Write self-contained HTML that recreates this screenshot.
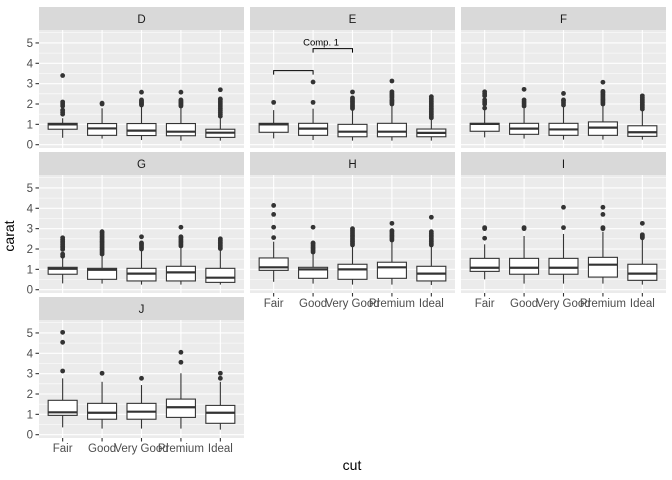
<!DOCTYPE html>
<html><head><meta charset="utf-8"><style>
html,body{margin:0;padding:0;background:#fff;}
svg{display:block;font-family:"Liberation Sans",Arial,sans-serif;}
</style></head><body>
<svg id="chart" width="672" height="480" viewBox="0 0 672 480"></svg>
<script>
const colors = ["D","E","F","G","H","I","J"];
const cuts = ["Fair","Good","Very Good","Premium","Ideal"];
const q1 = [[0.76,0.46,0.45,0.44,0.36],[0.61,0.46,0.39,0.39,0.39],[0.66,0.51,0.46,0.46,0.41],[0.76,0.51,0.43,0.43,0.36],[0.95,0.56,0.51,0.56,0.43],[0.90,0.76,0.76,0.62,0.46],[0.95,0.76,0.76,0.85,0.56]];
const med = [[1.00,0.80,0.69,0.64,0.59],[1.00,0.79,0.64,0.64,0.58],[1.02,0.79,0.75,0.84,0.61],[1.03,0.98,0.79,0.85,0.59],[1.10,1.00,1.00,1.10,0.79],[1.08,1.08,1.08,1.23,0.79],[1.10,1.08,1.13,1.35,1.08]];
const q3 = [[1.05,1.04,1.04,1.04,0.76],[1.05,1.05,1.00,1.05,0.77],[1.05,1.05,1.05,1.12,0.93],[1.10,1.05,1.05,1.15,1.05],[1.56,1.10,1.25,1.35,1.15],[1.54,1.54,1.54,1.59,1.25],[1.69,1.54,1.54,1.75,1.44]];
const whiskLo = [[0.34,0.30,0.23,0.20,0.20],[0.31,0.23,0.20,0.20,0.20],[0.36,0.30,0.25,0.25,0.25],[0.31,0.30,0.25,0.25,0.25],[0.39,0.30,0.25,0.25,0.23],[0.51,0.30,0.30,0.30,0.25],[0.36,0.30,0.30,0.30,0.25]];
const whiskHi = [[1.30,1.79,1.90,1.84,1.35],[1.70,1.77,1.73,1.95,1.28],[1.70,1.79,1.87,1.95,1.70],[1.54,1.70,1.95,2.11,1.98],[2.36,1.79,2.10,2.40,2.20],[2.23,2.64,2.74,2.85,2.45],[2.77,2.60,2.44,3.02,2.60]];
const outliers = [
 [[1.5,1.6,1.7,1.9,2.0,2.1,3.4],[2.0,2.04],[1.95,2.0,2.05,2.1,2.15,2.2,2.58],[1.9,1.95,2.0,2.05,2.1,2.15,2.2,2.58],[1.4,1.5,1.6,1.7,1.8,1.9,2.0,2.1,2.2,2.25,2.7]],
 [[2.08],[2.08,3.08],[1.78,1.85,1.92,2.0,2.08,2.15,2.23,2.3,2.59],[2.0,2.08,2.15,2.2,2.3,2.38,2.45,2.52,2.6,3.13],[1.32,1.4,1.48,1.56,1.64,1.72,1.8,1.88,1.96,2.04,2.12,2.2,2.28,2.36]],
 [[1.8,2.0,2.1,2.2,2.4,2.5,2.6],[1.9,2.0,2.1,2.2,2.72],[1.95,2.05,2.15,2.2,2.52],[2.0,2.08,2.16,2.24,2.32,2.4,2.48,2.56,2.62,3.07],[1.75,1.83,1.91,1.99,2.07,2.15,2.23,2.31,2.4]],
 [[1.65,1.75,1.98,2.06,2.14,2.22,2.3,2.38,2.46,2.55],[1.75,1.83,1.91,1.99,2.07,2.15,2.23,2.31,2.39,2.47,2.55,2.63,2.71,2.79,2.85],[2.0,2.08,2.16,2.24,2.3,2.6],[2.15,2.23,2.31,2.39,2.47,2.55,2.6,3.07],[2.02,2.1,2.18,2.26,2.34,2.42,2.5]],
 [[2.56,3.07,3.7,4.14],[1.85,1.93,2.01,2.09,2.17,2.25,2.3,3.07],[2.2,2.28,2.36,2.44,2.52,2.6,2.68,2.76,2.84,2.92,3.0],[2.44,2.52,2.6,2.68,2.76,2.84,2.9,3.26],[2.2,2.28,2.36,2.44,2.52,2.6,2.68,2.76,2.85,3.56]],
 [[2.53,3.0,3.05],[3.0,3.05],[3.05,4.05],[3.0,3.05,3.7,4.05],[2.55,2.6,2.65,2.7,3.26]],
 [[3.13,4.54,5.03],[3.02],[2.77],[3.56,4.05],[2.77,3.02]]
];
const yTicks = [0,1,2,3,4,5];
const compBrackets = [[0,1,3.64],[1,2,4.72]];

const svg = document.getElementById('chart');
const NS = "http://www.w3.org/2000/svg";
function mk(tag, attrs, parent){const e=document.createElementNS(NS,tag);for(const k in attrs)e.setAttribute(k,attrs[k]);(parent||svg).appendChild(e);return e;}

const colX = [39,250,461], panelW = 205;
const stripTop = [7,152,297], stripH = 23, plotH = 118;
const unitPx = 20.35, zeroOff = 114.7;
function yScale(row,v){return stripTop[row]+stripH+zeroOff - v*unitPx;}
function xScale(col,k){return colX[col] + (k+0.6)*panelW/5.2;}

colors.forEach((c,pi)=>{
  const row=Math.floor(pi/3), col=pi%3;
  const g=mk('g',{});
  
  
  const px=colX[col], st=stripTop[row], pt=st+stripH;
  const strip=mk('rect',{x:px,y:st,width:panelW,height:stripH,fill:'#D9D9D9'},g);
  
  
  const st1=mk('text',{x:px+panelW/2,y:st+16,'text-anchor':'middle','font-size':'11.5',fill:'#1A1A1A'},g);
  st1.textContent=c;
  
  
  const bg=mk('rect',{x:px,y:pt,width:panelW,height:plotH,fill:'#EBEBEB'},g);
  
  
  for(let v=0.5; v<6; v+=1){const y=yScale(row,v); if(y>pt) mk('line',{x1:px,x2:px+panelW,y1:y,y2:y,stroke:'#fff','stroke-width':0.55},g);}
  yTicks.forEach(v=>{const y=yScale(row,v); mk('line',{x1:px,x2:px+panelW,y1:y,y2:y,stroke:'#fff','stroke-width':1.1},g);});
  cuts.forEach((cu,k)=>{const x=xScale(col,k); mk('line',{x1:x,x2:x,y1:pt,y2:pt+plotH,stroke:'#fff','stroke-width':1.1},g);});
  // y axis
  if(col===0){
    yTicks.forEach(v=>{const y=yScale(row,v);
      mk('line',{x1:px-3.5,x2:px,y1:y,y2:y,stroke:'#333','stroke-width':1.1},g);
      const t=mk('text',{x:px-6,y:y+4,'text-anchor':'end','font-size':'11.5',fill:'#4D4D4D'},g);t.textContent=v;
      
      
    });
  }
  // x axis
  const showX = row===2 || (row===1 && col>0);
  if(showX){
    cuts.forEach((cu,k)=>{const x=xScale(col,k);
      mk('line',{x1:x,x2:x,y1:pt+plotH,y2:pt+plotH+3.5,stroke:'#333','stroke-width':1.1},g);
      const t=mk('text',{x:x,y:pt+plotH+14,'text-anchor':'middle','font-size':'11.5',fill:'#4D4D4D'},g);t.textContent=cu;
      
      
    });
  }
  // boxes
  cuts.forEach((cu,k)=>{
    const x=xScale(col,k), hw=14.5;
    const bx=mk('g',{},g);
    
    
    mk('line',{x1:x,x2:x,y1:yScale(row,whiskLo[pi][k]),y2:yScale(row,q1[pi][k]),stroke:'#333','stroke-width':1.1},bx);
    mk('line',{x1:x,x2:x,y1:yScale(row,q3[pi][k]),y2:yScale(row,whiskHi[pi][k]),stroke:'#333','stroke-width':1.1},bx);
    const yt=yScale(row,q3[pi][k]), yb=yScale(row,q1[pi][k]);
    mk('rect',{x:x-hw,y:yt,width:hw*2,height:Math.max(0.5,yb-yt),fill:'#fff',stroke:'#333','stroke-width':1.1},bx);
    const ym=yScale(row,med[pi][k]);
    mk('line',{x1:x-hw,x2:x+hw,y1:ym,y2:ym,stroke:'#333','stroke-width':2.2},bx);
    outliers[pi][k].forEach(v=>{
      const p=mk('circle',{cx:x,cy:yScale(row,v),r:2.4,fill:'#333'},bx);
      
      
    });
  });
  if(c==='E'){
    compBrackets.forEach(b=>{
      const x1=xScale(col,b[0]), x2=xScale(col,b[1]), y=yScale(row,b[2]);
      const br=mk('path',{d:`M${x1},${y+4}V${y}H${x2}V${y+4}`,fill:'none',stroke:'#000','stroke-width':1},g);
      
      
    });
    const t=mk('text',{x:xScale(col,1)+8,y:yScale(row,4.72)-3,'text-anchor':'middle','font-size':'9.5',fill:'#000'},g);
    t.textContent='Comp. 1';
    
    
  }
});
const yt=mk('text',{x:0,y:0,transform:'translate(14,236) rotate(-90)','text-anchor':'middle','font-size':'14',fill:'#000'});
yt.textContent='carat';


const xt=mk('text',{x:352,y:470,'text-anchor':'middle','font-size':'14',fill:'#000'});
xt.textContent='cut';


</script>
</body></html>
